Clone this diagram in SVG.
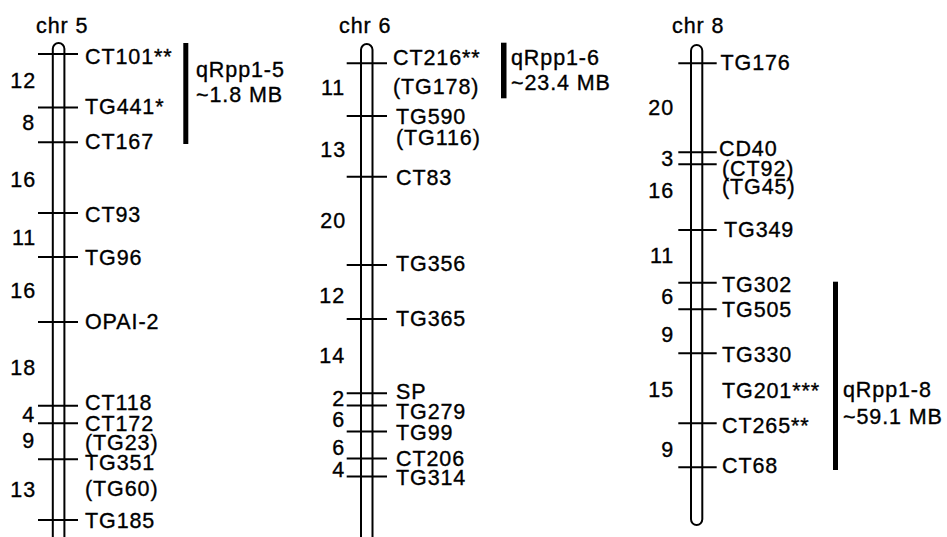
<svg xmlns="http://www.w3.org/2000/svg" width="947" height="537" viewBox="0 0 947 537">
<style>
text{font-family:"Liberation Sans",Arial,sans-serif;font-size:21.5px;letter-spacing:0.9px;fill:#000;stroke:#000;stroke-width:0.35px}
.n{text-anchor:end}
.chrom{fill:none;stroke:#000;stroke-width:2}
.tick{stroke:#000;stroke-width:2}
.bar{fill:#000}
</style>
<rect width="947" height="537" fill="#fff"/>
<g id="chr5">
<text x="36" y="33">chr 5</text>
<path class="chrom" d="M52.8,540 V48.8 A5.8,5.8 0 0 1 64.4,48.8 V540"/>
<g class="tick">
<line x1="38" y1="54" x2="78" y2="54"/>
<line x1="38" y1="107.5" x2="78" y2="107.5"/>
<line x1="38" y1="142.3" x2="78" y2="142.3"/>
<line x1="38" y1="213" x2="78" y2="213"/>
<line x1="38" y1="257" x2="78" y2="257"/>
<line x1="38" y1="322" x2="78" y2="322"/>
<line x1="38" y1="405.7" x2="78" y2="405.7"/>
<line x1="38" y1="423.3" x2="78" y2="423.3"/>
<line x1="38" y1="459.3" x2="78" y2="459.3"/>
<line x1="38" y1="520" x2="78" y2="520"/>
</g>
<text x="85" y="64">CT101**</text>
<text x="85" y="114">TG441*</text>
<text x="85" y="149">CT167</text>
<text x="85" y="222">CT93</text>
<text x="85" y="265">TG96</text>
<text x="85" y="329">OPAI-2</text>
<text x="85" y="410">CT118</text>
<text x="85" y="431">CT172</text>
<text x="85" y="450">(TG23)</text>
<text x="85" y="470">TG351</text>
<text x="85" y="496">(TG60)</text>
<text x="85" y="528">TG185</text>
<text class="n" x="36" y="88">12</text>
<text class="n" x="35" y="130">8</text>
<text class="n" x="36" y="187">16</text>
<text class="n" x="36" y="245">11</text>
<text class="n" x="36" y="298">16</text>
<text class="n" x="36" y="375">18</text>
<text class="n" x="35" y="422">4</text>
<text class="n" x="35" y="448">9</text>
<text class="n" x="36" y="497">13</text>
</g>
<g id="qtl5">
<rect class="bar" x="183.3" y="43" width="5" height="101"/>
<text x="196" y="77">qRpp1-5</text>
<text x="196" y="101.5">~1.8 MB</text>
</g>
<g id="chr6">
<text x="339" y="33">chr 6</text>
<path class="chrom" d="M361,540 V49.75 A5.75,5.75 0 0 1 372.5,49.75 V540"/>
<g class="tick">
<line x1="346.7" y1="63.3" x2="387" y2="63.3"/>
<line x1="346.7" y1="116" x2="387" y2="116"/>
<line x1="346.7" y1="176.7" x2="387" y2="176.7"/>
<line x1="346.7" y1="265" x2="387" y2="265"/>
<line x1="346.7" y1="319" x2="387" y2="319"/>
<line x1="346.7" y1="393.3" x2="387" y2="393.3"/>
<line x1="346.7" y1="405.5" x2="387" y2="405.5"/>
<line x1="346.7" y1="431.5" x2="387" y2="431.5"/>
<line x1="346.7" y1="458.5" x2="387" y2="458.5"/>
<line x1="346.7" y1="476.5" x2="387" y2="476.5"/>
</g>
<text x="393" y="65">CT216**</text>
<text x="393" y="94">(TG178)</text>
<text x="396" y="124">TG590</text>
<text x="396" y="145">(TG116)</text>
<text x="396" y="185">CT83</text>
<text x="396" y="271">TG356</text>
<text x="396" y="326">TG365</text>
<text x="396" y="399">SP</text>
<text x="396" y="419">TG279</text>
<text x="396" y="440">TG99</text>
<text x="396" y="466">CT206</text>
<text x="396" y="485">TG314</text>
<text class="n" x="345" y="95">11</text>
<text class="n" x="346" y="157">13</text>
<text class="n" x="346" y="228">20</text>
<text class="n" x="345" y="303">12</text>
<text class="n" x="345" y="363">14</text>
<text class="n" x="345" y="406">2</text>
<text class="n" x="345" y="427">6</text>
<text class="n" x="345" y="455">6</text>
<text class="n" x="345" y="477">4</text>
</g>
<g id="qtl6">
<rect class="bar" x="501" y="42.7" width="5.5" height="55.6"/>
<text x="511" y="65">qRpp1-6</text>
<text x="511" y="90">~23.4 MB</text>
</g>
<g id="chr8">
<text x="672" y="33">chr 8</text>
<path class="chrom" d="M691,50.65 A5.65,5.65 0 0 1 702.3,50.65 V519.35 A5.65,5.65 0 0 1 691,519.35 Z"/>
<g class="tick">
<line x1="678.3" y1="63.3" x2="716.7" y2="63.3"/>
<line x1="678.3" y1="152.3" x2="716.7" y2="152.3"/>
<line x1="678.3" y1="164.3" x2="716.7" y2="164.3"/>
<line x1="678.3" y1="230" x2="716.7" y2="230"/>
<line x1="678.3" y1="282.7" x2="716.7" y2="282.7"/>
<line x1="678.3" y1="309.3" x2="716.7" y2="309.3"/>
<line x1="678.3" y1="353.3" x2="716.7" y2="353.3"/>
<line x1="678.3" y1="423.3" x2="716.7" y2="423.3"/>
<line x1="678.3" y1="467.3" x2="716.7" y2="467.3"/>
</g>
<text x="720.5" y="70">TG176</text>
<text x="719" y="156">CD40</text>
<text x="722" y="176">(CT92)</text>
<text x="722" y="194">(TG45)</text>
<text x="724" y="237">TG349</text>
<text x="722" y="292">TG302</text>
<text x="722" y="317">TG505</text>
<text x="722" y="362">TG330</text>
<text x="722" y="398">TG201***</text>
<text x="722" y="433">CT265**</text>
<text x="722" y="473">CT68</text>
<text class="n" x="674" y="115">20</text>
<text class="n" x="674" y="166">3</text>
<text class="n" x="674" y="198">16</text>
<text class="n" x="674" y="263">11</text>
<text class="n" x="674" y="304">6</text>
<text class="n" x="674" y="342">9</text>
<text class="n" x="674" y="397">15</text>
<text class="n" x="674" y="457">9</text>
</g>
<g id="qtl8">
<rect class="bar" x="833" y="281.7" width="5" height="188.3"/>
<text x="843" y="397">qRpp1-8</text>
<text x="843" y="424">~59.1 MB</text>
</g>
<g id="connectors"></g>
</svg>
